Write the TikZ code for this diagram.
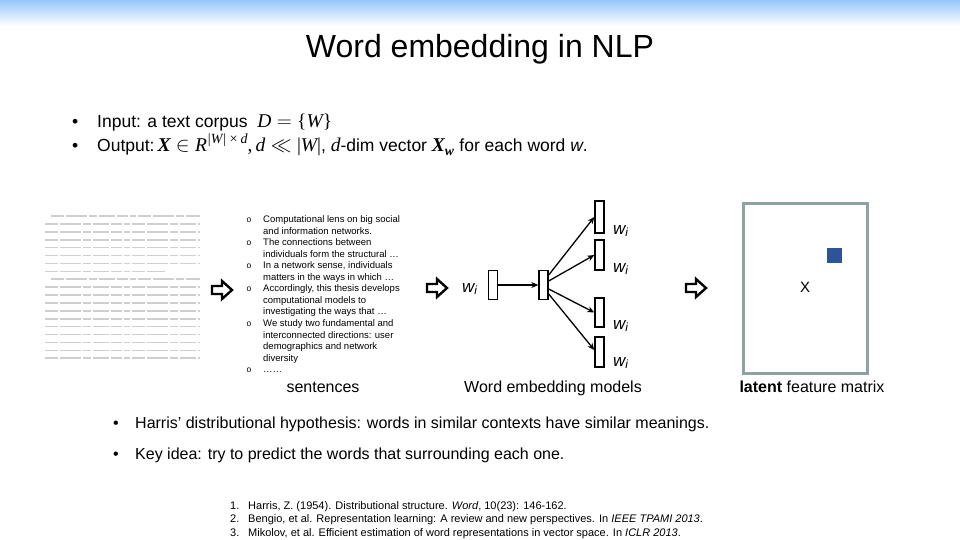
\documentclass[tikz,border=0pt]{standalone}
\usepackage{fontspec}
\setmainfont{Liberation Sans}
\newfontfamily\tms{Liberation Serif}
\usepackage{amsmath,amssymb}
\usetikzlibrary{arrows.meta,calc}
\definecolor{topblue}{RGB}{150,200,250}
\definecolor{matgray}{RGB}{142,162,162}
\definecolor{cellblue}{RGB}{47,84,150}
\newcommand{\mth}[1]{{\fontsize{19.5}{19.5}\selectfont #1}}
\newcommand{\msup}[1]{\raisebox{0.45em}{\fontsize{14}{14}\selectfont #1}}
\tikzset{
  fs/.style={font=\fontsize{#1}{#1}\selectfont},
  txt/.style={inner sep=0pt, anchor=base west},
  ctxt/.style={inner sep=0pt, anchor=base},
  textline/.style={draw=gray!38, line width=1.6pt,
    dash pattern=on 13pt off 2pt on 21pt off 2pt on 8pt off 2pt on 16pt off 2pt on 11pt off 2pt on 6pt off 2pt},
  vecbox/.style={draw, line width=1.4pt, minimum width=9pt, inner sep=0pt},
  conn/.style={-{Stealth[length=7pt,width=6pt]}, line width=1.3pt},
  hollow/.style={draw, line width=2.4pt, line join=miter},
  blockarr/.pic={\draw[hollow] (-10,-4) -- (0,-4) -- (0,-9) -- (10,0) -- (0,9) -- (0,4) -- (-10,4) -- cycle;},
  wlbl/.style={inner sep=0pt, anchor=base west, fs=17},
  mid/.style={txt, fs=9.5},
}
\begin{document}
\begin{tikzpicture}[x=1pt,y=-1pt]
\useasboundingbox (0,0) rectangle (960,540);
\fill[white] (0,0) rectangle (960,540);
\shade[top color=topblue, bottom color=white] (0,0) rectangle (960,26);

% title
\node[ctxt, fs=32] (title) at (480,58) {Word embedding in NLP};

% top bullets
\node[txt, fs=17.5] (b1) at (72,128) {•};
\node[txt, fs=17.5] (in1) at (97,128) {Input: a text corpus\ \ \mth{{\tms\itshape D} $=$ {\tms\{}{\tms\itshape W}{\tms\}}}};
\node[txt, fs=17.5] (b2) at (72,152) {•};
\node[txt, fs=17.5] (out1) at (97,152) {Output:\,\mth{{\tms\bfseries\itshape X} $\in$ {\tms\itshape R}\msup{\tms\itshape |W|\,×\,d}{\tms ,}\,{\tms\itshape d} $\ll$ {\tms |}{\tms\itshape W}{\tms |}}, \mth{{\tms\itshape d}}-dim vector \mth{{\tms\bfseries\itshape X}\textsubscript{\tms\bfseries\itshape w}} for each word \textit{w}.};

% left text block (illegible page)
\foreach \k in {0,...,18}{
  \pgfmathsetmacro{\yy}{216+7.9*\k}
  \pgfmathsetmacro{\xs}{(\k==0 || \k==8) ? 51 : 45}
  \pgfmathsetmacro{\xe}{(\k==7) ? 165 : 200}
  \draw[textline] (\xs,\yy) -- (\xe,\yy);
}

% block arrows
\pic at (222,290) {blockarr};
\pic at (437,288) {blockarr};
\pic at (696,288) {blockarr};

% middle bullet list
\foreach \k/\t in {0/Computational lens on big social,1/and information networks.,2/The connections between,3/individuals form the structural …,4/{In a network sense, individuals},5/matters in the ways in which …,6/{Accordingly, this thesis develops},7/computational models to,8/investigating the ways that …,9/We study two fundamental and,10/interconnected directions: user,11/demographics and network,12/diversity,13/……}{
  \node[mid] (m\k) at (263,{222.5+11.55*\k}) {\t};
}
\foreach \k in {0,2,4,6,9,13}{
  \node[inner sep=0pt, fs=8.5, anchor=base] (mb\k) at (249,{222.5+11.55*\k}) {o};
}
\node[ctxt, fs=16] (sent) at (323,392) {sentences};

% network
\node[wlbl] (wl) at (462,292) {\textit{w\textsubscript{i}}};
\node[vecbox, minimum height=29pt] (inb) at (493,285) {};
\node[vecbox, minimum height=29pt] (hid) at (543.5,285) {};
\node[vecbox, minimum height=32pt] (o1) at (599.5,217) {};
\node[vecbox, minimum height=30pt] (o2) at (599.5,255) {};
\node[vecbox, minimum height=29pt] (o3) at (599.5,312.5) {};
\node[vecbox, minimum height=30pt] (o4) at (599.5,352) {};
\node[wlbl] (w1) at (613,234) {\textit{w\textsubscript{i}}};
\node[wlbl] (w2) at (613,272) {\textit{w\textsubscript{i}}};
\node[wlbl] (w3) at (613,329) {\textit{w\textsubscript{i}}};
\node[wlbl] (w4) at (613,366) {\textit{w\textsubscript{i}}};
\draw[conn] (inb) -- (hid);
\draw[conn] ($(hid.east)+(0,-10)$) -- (o1.west);
\draw[conn] ($(hid.east)+(0,-4)$) -- (o2.west);
\draw[conn] ($(hid.east)+(0,4)$) -- (o3.west);
\draw[conn] ($(hid.east)+(0,9)$) -- ($(o4.west)+(0,-2)$);
\node[ctxt, fs=16] (wem) at (553,392) {Word embedding models};

% matrix
\node[draw=matgray, line width=3pt, minimum width=124pt, minimum height=170pt, inner sep=0pt] (mat) at (805,288) {};
\node[fs=15, inner sep=0pt] (xl) at (805,287) {X};
\node[fill=cellblue, minimum size=15pt, inner sep=0pt] (cell) at (834.5,255.5) {};
\node[ctxt, fs=16] (lfm) at (812,392) {\textbf{latent} feature matrix};

% bottom bullets
\node[txt, fs=16] (b3) at (113,428) {•};
\node[txt, fs=16] (h1) at (135,428) {Harris’ distributional hypothesis: words in similar contexts have similar meanings.};
\node[txt, fs=16] (b4) at (113,459) {•};
\node[txt, fs=16] (k1) at (135,459) {Key idea: try to predict the words that surrounding each one.};

% references
\node[txt, fs=11] (r1n) at (230,509) {1.};
\node[txt, fs=11] (r1) at (248,509) {Harris, Z. (1954). Distributional structure. \textit{Word}, 10(23): 146-162.};
\node[txt, fs=11] (r2n) at (230,522.5) {2.};
\node[txt, fs=11] (r2) at (248,522.5) {Bengio, et al. Representation learning: A review and new perspectives. In \textit{IEEE TPAMI 2013}.};
\node[txt, fs=11] (r3n) at (230,536) {3.};
\node[txt, fs=11] (r3) at (248,536) {Mikolov, et al. Efficient estimation of word representations in vector space. In \textit{ICLR 2013}.};
\end{tikzpicture}
\end{document}
